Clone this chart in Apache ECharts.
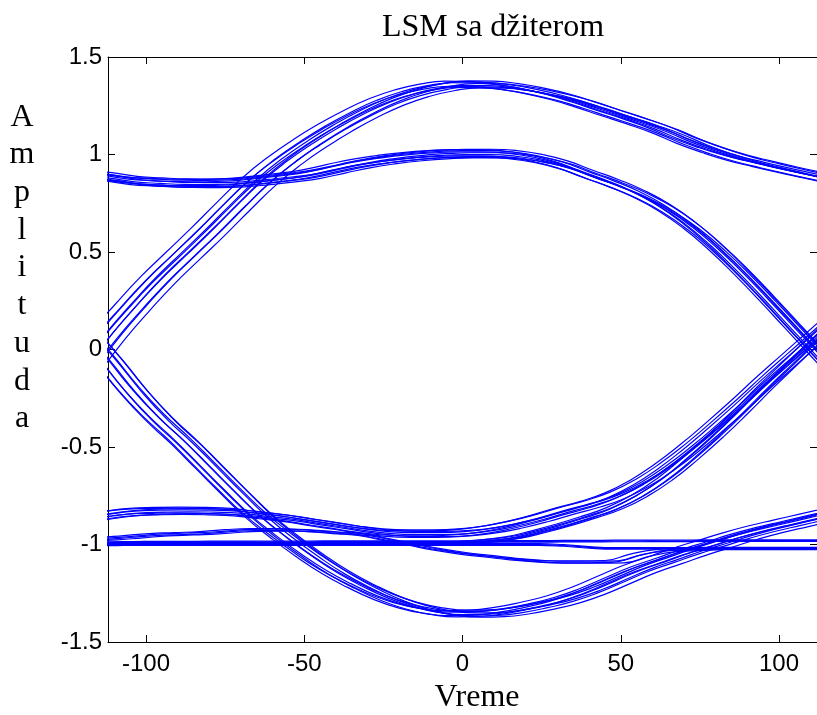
<!DOCTYPE html>
<html><head><meta charset="utf-8">
<script src="https://cdn.jsdelivr.net/npm/echarts@6/dist/echarts.min.js"></script>
<style>html,body{margin:0;padding:0;background:#fff}#c{width:817px;height:715px}</style>
</head><body><div id="c"></div>
<script>
// time samples (x axis units)
const timeGrid = [-120,-112,-104,-96,-88,-80,-72,-64,-56,-48,-40,-32,-24,-16,-8,0,8,16,24,32,40,48,56,64,72,80,88,96,104,112,120];
const xTickValues = [-100,-50,0,50,100];
const yTickValues = [-1.5,-1,-0.5,0,0.5,1,1.5];

// bundle centre traces
const upperArch = [-0.1,0.07,0.22,0.36,0.485,0.61,0.74,0.865,0.97,1.06,1.14,1.21,1.27,1.315,1.345,1.36,1.358,1.345,1.322,1.292,1.253,1.21,1.168,1.122,1.067,1.02,0.98,0.948,0.918,0.89,0.862];
const upperHump = [0.90,0.885,0.866,0.858,0.853,0.852,0.856,0.868,0.882,0.90,0.928,0.955,0.975,0.99,1.0,1.005,1.005,0.998,0.978,0.945,0.897,0.85,0.795,0.725,0.635,0.525,0.40,0.265,0.125,-0.015,-0.155];
const lowerArch = [0.10,-0.05,-0.21,-0.35,-0.47,-0.60,-0.73,-0.855,-0.96,-1.055,-1.14,-1.21,-1.27,-1.315,-1.343,-1.355,-1.352,-1.337,-1.312,-1.28,-1.235,-1.18,-1.125,-1.08,-1.035,-0.995,-0.955,-0.92,-0.89,-0.86,-0.83];
const lowerHump = [-0.87,-0.85,-0.835,-0.83,-0.828,-0.83,-0.835,-0.85,-0.865,-0.885,-0.905,-0.925,-0.94,-0.945,-0.945,-0.94,-0.925,-0.90,-0.868,-0.83,-0.795,-0.75,-0.685,-0.60,-0.50,-0.39,-0.275,-0.155,-0.04,0.075,0.19];
const flatRise = [-1.0,-1.0,-0.998,-0.997,-0.996,-0.995,-0.995,-0.995,-0.995,-0.995,-0.995,-0.995,-0.995,-0.994,-0.993,-0.99,-0.98,-0.965,-0.935,-0.90,-0.86,-0.815,-0.75,-0.665,-0.56,-0.445,-0.32,-0.19,-0.065,0.06,0.18];
const flatHigh = [-0.99,-0.99,-0.989,-0.988,-0.988,-0.987,-0.987,-0.986,-0.986,-0.986,-0.985,-0.985,-0.985,-0.985,-0.985,-0.985,-0.985,-0.984,-0.984,-0.983,-0.983,-0.982,-0.982,-0.981,-0.981,-0.98,-0.98,-0.98,-0.98,-0.98,-0.98];
const flatLow = [-1.0,-1.0,-1.0,-1.0,-1.0,-1.0,-1.0,-1.0,-1.0,-1.0,-1.0,-1.0,-1.0,-1.0,-1.0,-1.0,-1.0,-1.0,-1.0,-1.005,-1.015,-1.02,-1.02,-1.02,-1.02,-1.02,-1.02,-1.02,-1.02,-1.02,-1.02];
const dipTrace = [-0.975,-0.97,-0.96,-0.95,-0.945,-0.94,-0.93,-0.925,-0.925,-0.93,-0.94,-0.95,-0.975,-1.0,-1.025,-1.045,-1.06,-1.075,-1.085,-1.09,-1.09,-1.088,-1.055,-1.032,-1.025,-1.02,-1.02,-1.02,-1.02,-1.02,-1.02];

// jitter members of each bundle: [time shift, amplitude shift]
const jitterArch = [[-5.5,0.016],[-4.3,-0.01],[-3.1,0.008],[-1.9,-0.016],[-0.7,0.012],[0.5,-0.005],[1.7,0.018],[2.9,-0.012],[4.1,0.004],[5.3,-0.018]];
const jitterHump = [[-3,0.02],[-2.3,-0.012],[-1.6,0.008],[-0.9,-0.02],[-0.2,0.015],[0.5,-0.006],[1.2,0.022],[1.9,-0.016],[2.6,0.004],[3.2,-0.022]];
const jitterLowHump = [[-3,0.015],[-2.1,-0.01],[-1.2,0.02],[-0.3,-0.018],[0.6,0.006],[1.5,-0.004],[2.4,0.012],[3.2,-0.014]];
const jitterFlatRise = [[-2.5,0.004],[-1.5,-0.004],[-0.5,0.006],[0.5,-0.006],[1.5,0.002],[2.5,-0.002]];
const jitterFlat = [[0,-0.004],[0,0.0],[0,0.004]];
const jitterDip = [[-3,0.006],[-1,-0.004],[1,0.004],[3,-0.006]];

const bundles = [
  [upperArch, jitterArch],
  [upperHump, jitterHump],
  [lowerArch, jitterArch],
  [lowerHump, jitterLowHump],
  [flatRise, jitterFlatRise],
  [flatHigh, jitterFlat],
  [flatLow, jitterFlat],
  [dipTrace, jitterDip]
];

const series = [];
bundles.forEach(([trace, jit]) => {
  jit.forEach(([dx, dy]) => {
    series.push({
      type: 'line', symbol: 'none', smooth: 0.5, silent: true, clip: true,
      lineStyle: { color: '#0000ff', width: 1.2 },
      data: timeGrid.map((t, i) => [t + dx, trace[i] + dy])
    });
  });
});

const axisFont = { fontFamily: 'Liberation Sans, Arial, Helvetica, sans-serif', fontSize: 24, color: '#000' };
const blackLine = { color: '#000', width: 1 };

const chart = echarts.init(document.getElementById('c'), null, { renderer: 'canvas' });
chart.setOption({
  animation: false,
  backgroundColor: '#fff',
  grid: { left: 108, right: -3, top: 57, bottom: 73, containLabel: false },
  xAxis: [
    { type: 'value', min: -112, max: 112, position: 'bottom',
      axisLine: { show: true, onZero: false, lineStyle: blackLine },
      axisTick: { show: true, inside: true, length: 7, customValues: xTickValues, lineStyle: blackLine },
      axisLabel: Object.assign({ customValues: xTickValues, margin: 10 }, axisFont),
      splitLine: { show: false } },
    { type: 'value', min: -112, max: 112, position: 'top',
      axisLine: { show: true, onZero: false, lineStyle: blackLine },
      axisTick: { show: true, inside: true, length: 7, customValues: xTickValues, lineStyle: blackLine },
      axisLabel: { show: false }, splitLine: { show: false } }
  ],
  yAxis: [
    { type: 'value', min: -1.5, max: 1.5, interval: 0.5, position: 'left',
      axisLine: { show: true, onZero: false, lineStyle: blackLine },
      axisTick: { show: true, inside: true, length: 7, customValues: yTickValues, lineStyle: blackLine },
      axisLabel: Object.assign({ customValues: yTickValues, margin: 6 }, axisFont),
      splitLine: { show: false } },
    { type: 'value', min: -1.5, max: 1.5, interval: 0.5, position: 'right',
      axisLine: { show: true, onZero: false, lineStyle: blackLine },
      axisTick: { show: true, inside: true, length: 7, customValues: yTickValues, lineStyle: blackLine },
      axisLabel: { show: false }, splitLine: { show: false } }
  ],
  graphic: [
    { type: 'text', x: 493, y: 28, style: { text: 'LSM sa džiterom', font: '32px "Liberation Serif", "Times New Roman", serif', fill: '#000', textAlign: 'center', textVerticalAlign: 'middle' } },
    { type: 'text', x: 477, y: 698, style: { text: 'Vreme', font: '32px "Liberation Serif", "Times New Roman", serif', fill: '#000', textAlign: 'center', textVerticalAlign: 'middle' } },
    { type: 'text', x: 22, y: 268, style: { text: 'A\nm\np\nl\ni\nt\nu\nd\na', font: '32px "Liberation Serif", "Times New Roman", serif', lineHeight: 37.7, fill: '#000', textAlign: 'center', textVerticalAlign: 'middle' } }
  ],
  series: series
});
</script>
</body></html>
